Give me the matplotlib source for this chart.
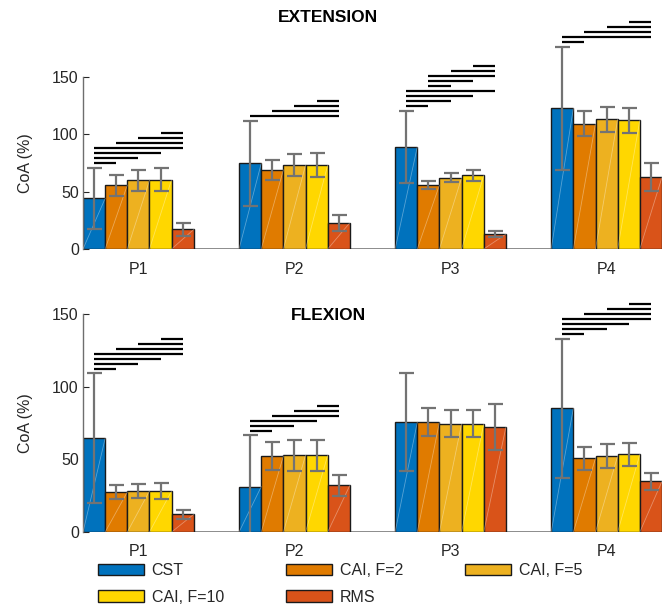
import numpy as np
import matplotlib
matplotlib.use('Agg')
from matplotlib import pyplot as plt
from matplotlib.patches import Patch

plt.rcParams['font.family'] = ['Liberation Sans', 'DejaVu Sans']

groups = ['P1', 'P2', 'P3', 'P4']
series = ['CST', 'CAI, F=2', 'CAI, F=5', 'CAI, F=10', 'RMS']
colors = ['#0072BD', '#E07B00', '#EDB120', '#FFD700', '#D95319']

# mean and std, rows = series, columns = P1..P4
ext_mean = np.array([[44.1, 74.6, 89.0, 122.7],
                     [55.7, 69.0, 55.7, 109.4],
                     [59.8, 73.1, 62.1, 113.1],
                     [60.6, 73.1, 64.1, 112.3],
                     [17.1, 22.9, 13.0, 62.7]])
ext_std = np.array([[26.5, 37.3, 31.7, 53.5],
                    [9.2, 9.0, 3.7, 11.1],
                    [9.4, 9.8, 3.9, 11.1],
                    [9.7, 10.2, 4.4, 11.1],
                    [6.0, 6.9, 2.6, 12.0]])
flex_mean = np.array([[64.4, 31.2, 75.5, 85.1],
                      [27.5, 52.3, 75.7, 50.7],
                      [28.2, 52.8, 74.5, 52.3],
                      [28.2, 52.8, 74.5, 53.4],
                      [12.2, 32.1, 72.2, 34.9]])
flex_std = np.array([[44.7, 35.3, 33.8, 47.9],
                     [5.0, 9.9, 9.8, 7.8],
                     [5.0, 10.7, 9.2, 8.1],
                     [5.2, 10.7, 9.2, 8.1],
                     [3.2, 7.1, 16.0, 5.9]])

# significant pairs (series index) per group, drawn from the bottom up
ext_sig = [[(0, 1), (0, 2), (0, 3), (0, 4), (1, 4), (2, 4), (3, 4)],
           [(0, 4), (1, 4), (2, 4), (3, 4)],
           [(0, 1), (0, 2), (0, 3), (0, 4), (1, 2), (1, 3), (1, 4), (2, 4), (3, 4)],
           [(0, 1), (0, 4), (1, 4), (2, 4), (3, 4)]]
flex_sig = [[(0, 1), (0, 2), (0, 3), (0, 4), (1, 4), (2, 4), (3, 4)],
            [(0, 1), (0, 2), (0, 3), (1, 4), (2, 4), (3, 4)],
            [],
            [(0, 1), (0, 2), (0, 3), (0, 4), (1, 4), (2, 4), (3, 4)]]

W, H = 668, 604
fig = plt.figure(figsize=(W / 100, H / 100), dpi=100)
ax1 = fig.add_axes([83 / W, 1 - 249 / H, 579 / W, 172 / H])
ax2 = fig.add_axes([83 / W, 1 - 532 / H, 579 / W, 218 / H])

bw = 0.142
x = np.arange(1, 5)
txt = '#262626'


def draw(ax, mean, std, sig, clip_err):
    ax_px = ax.get_position().height * H
    per_px = 150 / ax_px
    for i in range(5):
        xs = x + (i - 2) * bw
        ax.bar(xs, mean[i], bw, color=colors[i], edgecolor='#1a1a1a', lw=1.0, zorder=2)
        # faint seam across each bar
        for xx, m in zip(xs, mean[i]):
            ax.plot([xx - bw / 2, xx + bw / 2], [0, m], color='white', lw=0.6,
                    alpha=0.35, zorder=3)
        ax.errorbar(xs, mean[i], yerr=std[i], fmt='none', ecolor='#737373',
                    elinewidth=1.6, capsize=5.4, capthick=1.6, zorder=4,
                    clip_on=clip_err)
    ax.axhline(0, color='#8c8c8c', lw=1.4, zorder=1)

    # significance lines above each group
    gap, step = 4.8 * per_px, 5.0 * per_px
    for g, pairs in enumerate(sig):
        top = np.max(mean[:, g] + std[:, g]) + gap
        for k, (a, b) in enumerate(pairs):
            xa = x[g] + (a - 2) * bw
            xb = x[g] + (b - 2) * bw
            ax.plot([xa, xb], [top + k * step] * 2, color='black', lw=1.6,
                    clip_on=False, solid_capstyle='butt', zorder=5)

    ax.set_xlim(1 - 2.5 * bw, 4 + 2.5 * bw)
    ax.set_ylim(0, 150)
    ax.set_yticks([0, 50, 100, 150])
    ax.set_xticks(x)
    ax.set_xticklabels(groups)
    ax.tick_params(axis='y', direction='in', length=4, width=0.8, colors=txt,
                   labelsize=11.5, pad=3)
    ax.tick_params(axis='x', length=0, colors=txt, labelsize=11.5, pad=9)
    for s in ['top', 'right', 'bottom']:
        ax.spines[s].set_visible(False)
    ax.spines['left'].set_color('#6e6e6e')
    ax.spines['left'].set_linewidth(1.0)
    ax.set_ylabel('CoA (%)', fontsize=11.5, color=txt, labelpad=14)
    ax.set_facecolor('none')


draw(ax1, ext_mean, ext_std, ext_sig, False)
draw(ax2, flex_mean, flex_std, flex_sig, True)

fig.text(328 / W, 1 - 18 / H, 'EXTENSION', ha='center', va='center',
         fontsize=12.5, fontweight='bold', color='black')
fig.text(328 / W, 1 - 315 / H, 'FLEXION', ha='center', va='center',
         fontsize=12.5, fontweight='bold', color='black')

handles = [Patch(facecolor=c, edgecolor='#1a1a1a', lw=1.0, label=s)
           for c, s in zip(colors, series)]
order = [0, 3, 1, 4, 2]
fig.legend([handles[i] for i in order], [series[i] for i in order],
           loc='upper left', bbox_to_anchor=(98 / W, 1 - 563 / H), ncol=3,
           frameon=False, fontsize=11.5, handlelength=2.9, handleheight=0.75,
           handletextpad=0.45, columnspacing=3.9, labelspacing=0.72,
           borderpad=0, borderaxespad=0, labelcolor=txt)

fig.savefig('out.png', dpi=100)
